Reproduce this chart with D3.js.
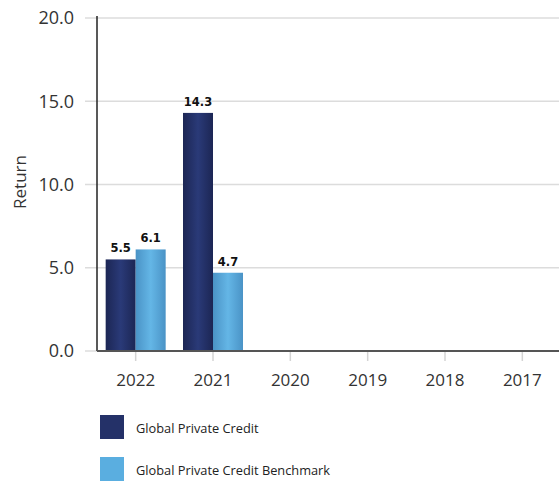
<!DOCTYPE html>
<html><head><meta charset="utf-8">
<script src="https://cdn.jsdelivr.net/npm/d3@7"></script>
<style>body{margin:0;background:#fff;}svg{display:block;font-family:"Open Sans",sans-serif;}</style>
</head><body>
<script>
const categories = ["2022","2021","2020","2019","2018","2017"];
const seriesNames = ["Global Private Credit","Global Private Credit Benchmark"];
const creditValues = [5.5, 14.3, null, null, null, null];
const benchmarkValues = [6.1, 4.7, null, null, null, null];
const yTicks = [0, 5, 10, 15, 20];
const colors = ["#243168", "#5aaee0"];

const W = 559, H = 481;
const svg = d3.select("body").append("svg").attr("width", W).attr("height", H);
const defs = svg.append("defs");
[["g0","#1c2654","#2a3a78"],["g1","#4a93c6","#64b6e6"]].forEach(([id,e,c])=>{
  const g = defs.append("linearGradient").attr("id",id).attr("x1","0").attr("x2","1").attr("y1","0").attr("y2","0");
  g.append("stop").attr("offset","0%").attr("stop-color",e);
  g.append("stop").attr("offset","50%").attr("stop-color",c);
  g.append("stop").attr("offset","100%").attr("stop-color",e);
});

const x0 = d3.scaleBand().domain(categories).range([97, 561]).paddingInner(0).paddingOuter(0);
const x1 = d3.scaleBand().domain([0,1]).range([0, 60]);
const y = d3.scaleLinear().domain([0, 20]).range([351, 18]);

// gridlines
svg.append("g").selectAll("line").data(yTicks).join("line")
  .attr("x1", 85).attr("x2", W).attr("y1", d=>y(d)).attr("y2", d=>y(d))
  .attr("stroke", "#dcdcdc").attr("stroke-width", 1.5);

// y tick labels
svg.append("g").selectAll("text").data(yTicks).join("text")
  .attr("x", 74).attr("y", d=>y(d)).attr("dy","0.35em").attr("text-anchor","end")
  .attr("font-size", 18).attr("fill","#333").text(d=>d.toFixed(1));

// y axis line
svg.append("line").attr("x1",97).attr("x2",97).attr("y1",16).attr("y2",351)
  .attr("stroke","#222").attr("stroke-width",1.5);

// x ticks
svg.append("g").selectAll("line").data(categories).join("line")
  .attr("x1", d=>x0(d)+x0.bandwidth()/2).attr("x2", d=>x0(d)+x0.bandwidth()/2)
  .attr("y1", 352).attr("y2", 361).attr("stroke","#d4d4d4").attr("stroke-width",1.5);
svg.append("g").selectAll("text").data(categories).join("text")
  .attr("x", d=>x0(d)+x0.bandwidth()/2).attr("y", 386).attr("text-anchor","middle")
  .attr("font-size", 17).attr("fill","#333").text(d=>d);

// bars
const series = [creditValues, benchmarkValues];
const offset = (x0.bandwidth() - 60) / 2;
series.forEach((vals, si) => {
  const data = categories.map((c,i)=>({c, v: vals[i]})).filter(d=>d.v!=null);
  svg.append("g").selectAll("rect").data(data).join("rect")
    .attr("x", d=>x0(d.c)+offset+x1(si)).attr("width", x1.bandwidth())
    .attr("y", d=>y(d.v)).attr("height", d=>y(0)-y(d.v))
    .attr("fill", `url(#g${si})`);
  svg.append("g").selectAll("text").data(data).join("text")
    .attr("x", d=>x0(d.c)+offset+x1(si)+x1.bandwidth()/2).attr("y", d=>y(d.v)-7)
    .attr("text-anchor","middle").attr("font-size",11.5).attr("font-weight","bold")
    .attr("font-family","'DejaVu Sans',sans-serif")
    .attr("fill","#111").text(d=>d.v.toFixed(1));
});

// x axis line
svg.append("line").attr("x1",97).attr("x2",W).attr("y1",351).attr("y2",351)
  .attr("stroke","#555").attr("stroke-width",2);

// y axis title
svg.append("text").attr("transform","translate(26,182) rotate(-90)")
  .attr("text-anchor","middle").attr("font-size",17).attr("fill","#333").text("Return");

// legend
const lg = svg.append("g").selectAll("g").data(seriesNames).join("g")
  .attr("transform",(d,i)=>`translate(100,${415 + i*42})`);
lg.append("rect").attr("width",24).attr("height",24).attr("fill",(d,i)=>colors[i]);
lg.append("text").attr("x",36).attr("y",14).attr("dy","0.35em")
  .attr("font-size",12.8).attr("fill","#222").text(d=>d);
</script>
</body></html>
